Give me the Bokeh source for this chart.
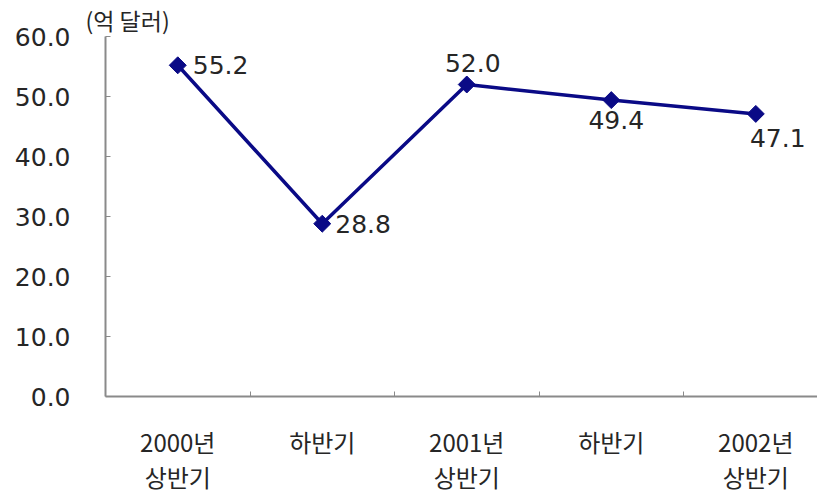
import math
from bokeh.plotting import figure
from bokeh.models import ColumnDataSource, FixedTicker, Range1d
from bokeh.core.properties import value
from bokeh.embed import file_html
from bokeh.resources import INLINE

categories = ["2000년\n상반기", "하반기", "2001년\n상반기", "하반기", "2002년\n상반기"]
values = [55.2, 28.8, 52.0, 49.4, 47.1]
value_labels = ["55.2", "28.8", "52.0", "49.4", "47.1"]
y_ticks = [0, 10, 20, 30, 40, 50, 60]
unit_text = "(억 달러)"

# label placement (style only)
lab_dx = [15, 13, 6, 5, 22]
lab_dy = [0, 0, -22, 20, 24]
lab_align = ["left", "left", "center", "center", "center"]

KFONT = "Noto Sans CJK KR"
NFONT = "DejaVu Sans"
GRAY = "#8a8a8a"
NAVY = "#0a0a86"
TXT = "#262626"

xs = list(range(len(values)))
src = ColumnDataSource(dict(x=xs, y=values, t=value_labels, dx=lab_dx, dy=lab_dy, al=lab_align))

p = figure(width=817, height=496, output_backend="svg", toolbar_location=None,
           x_range=Range1d(-0.5, 4.427), y_range=Range1d(0, 60))
p.min_border_left = 105
p.min_border_right = 0
p.min_border_top = 35
p.min_border_bottom = 100
p.outline_line_color = None

# unit caption as title
p.title.text = unit_text
p.title.align = "left"
p.title.offset = -20
p.title.standoff = 0
p.title.text_font = KFONT
p.title.text_font_size = "23px"
p.title.text_font_style = "normal"
p.title.text_color = TXT

# grid: only top line at 60
p.xgrid.visible = False
p.ygrid.ticker = FixedTicker(ticks=[60])
p.ygrid.grid_line_color = GRAY
p.ygrid.grid_line_width = 2

# y axis
p.yaxis.ticker = FixedTicker(ticks=y_ticks)
p.yaxis.major_label_overrides = {t: f"{t:.1f}" for t in y_ticks}
p.yaxis.axis_line_color = GRAY
p.yaxis.axis_line_width = 2
p.yaxis.major_tick_in = 5
p.yaxis.major_tick_out = 0
p.yaxis.major_tick_line_color = GRAY
p.yaxis.minor_tick_line_color = None
p.yaxis.major_label_standoff = 35
p.yaxis.major_label_text_font = NFONT
p.yaxis.major_label_text_font_size = "25px"
p.yaxis.major_label_text_color = TXT

# x axis: labels at centers, tick marks at boundaries
p.xaxis.ticker = FixedTicker(ticks=xs, minor_ticks=[i + 0.5 for i in xs[:-1]])
p.xaxis.major_label_overrides = {i: c for i, c in zip(xs, categories)}
p.xaxis.axis_line_color = GRAY
p.xaxis.axis_line_width = 2
p.xaxis.major_tick_line_color = None
p.xaxis.minor_tick_in = 5
p.xaxis.minor_tick_out = 0
p.xaxis.minor_tick_line_color = GRAY
p.xaxis.major_label_standoff = 21
p.xaxis.major_label_text_font = KFONT
p.xaxis.major_label_text_font_size = "24px"
p.xaxis.major_label_text_color = TXT
p.xaxis.major_label_text_line_height = 1.0

p.line("x", "y", source=src, line_color=NAVY, line_width=3.5)
p.scatter("x", "y", source=src, marker="square", angle=math.pi / 4, size=12,
          fill_color=NAVY, line_color=NAVY)

p.text("x", "y", text="t", source=src, x_offset="dx", y_offset="dy", text_align="al",
       text_baseline="middle", text_font=value(NFONT), text_font_size="25px", text_color=TXT)

open("out.html", "w").write(file_html(p, INLINE))
